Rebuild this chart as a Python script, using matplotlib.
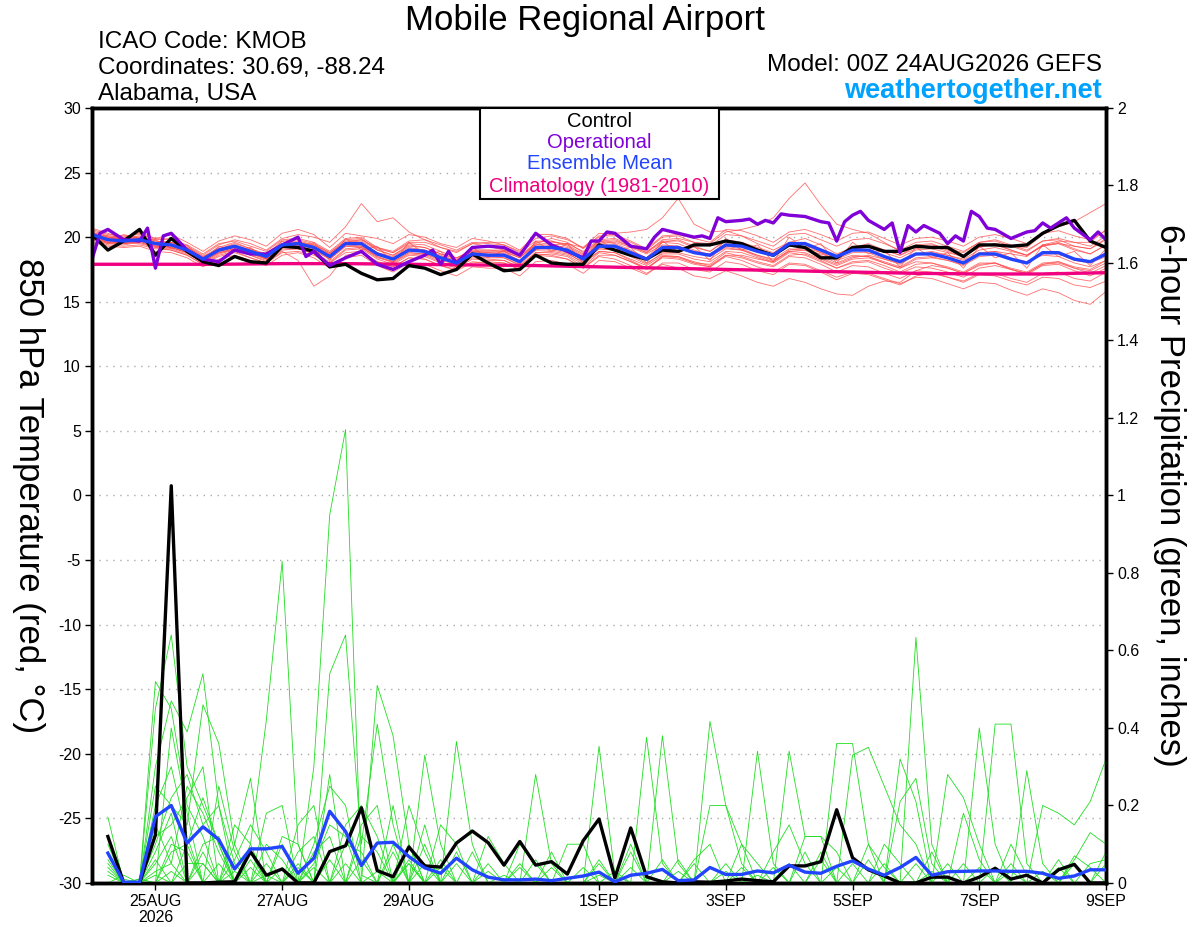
import numpy as np
import matplotlib
matplotlib.use("Agg")
import matplotlib.pyplot as plt
from matplotlib.patches import Rectangle

plt.rcParams['font.family'] = ['Liberation Sans', 'DejaVu Sans']
plt.rcParams['axes.unicode_minus'] = False

# --- data (hours after 00Z 24AUG2026) ---
temp_hours = [6 * j for j in range(65)]      # 850 hPa temperature, 00Z..384h
precip_hours = [6 * (i + 1) for i in range(64)]  # 6-hour precip, 06Z..384h

control_temp = [
    20.2, 19.0, 19.7, 20.6, 18.6, 19.9, 18.9, 18.1, 17.8, 18.5, 18.1, 18.0, 19.3,
    19.2, 18.9, 17.7, 17.9, 17.2, 16.7, 16.8, 17.8, 17.6, 17.1, 17.5, 18.7, 18.0,
    17.4, 17.5, 18.6, 18.0, 17.9, 17.9, 19.4, 19.0, 18.6, 18.3, 19.0, 18.9, 19.4,
    19.4, 19.7, 19.5, 19.0, 18.6, 19.4, 19.2, 18.4, 18.4, 19.2, 19.3, 18.9, 18.9,
    19.3, 19.2, 19.2, 18.5, 19.4, 19.4, 19.3, 19.4, 20.3, 20.9, 21.3, 19.7, 19.2,
]
mean_temp = [
    20.2, 19.8, 19.7, 19.8, 19.5, 19.4, 19.0, 18.3, 19.0, 19.3, 18.9, 18.5, 19.4,
    19.5, 19.2, 18.5, 19.5, 19.5, 18.7, 18.3, 19.0, 18.9, 18.4, 18.0, 18.7, 18.6,
    18.6, 18.1, 19.2, 19.2, 19.0, 18.3, 19.3, 19.3, 18.8, 18.3, 19.2, 19.2, 18.8,
    18.6, 19.4, 19.3, 18.9, 18.6, 19.5, 19.5, 19.0, 18.5, 19.0, 19.0, 18.5, 18.1,
    18.7, 18.7, 18.4, 18.0, 18.7, 18.7, 18.3, 18.0, 18.8, 18.8, 18.3, 18.1, 18.7,
]
op_hours = [0, 3, 6, 12, 18, 21, 24, 27, 30, 36, 42, 48, 54, 60, 66, 72, 78, 81, 84, 90,
            96, 102, 108, 114, 120, 126, 129, 132, 135, 138, 144, 150, 156, 162, 168,
            174, 180, 186, 189, 192, 195, 198, 204, 210, 213, 216, 222, 228, 231, 234,
            237, 240, 246, 249, 252, 255, 258, 261, 264, 270, 276, 279, 282, 285, 288,
            291, 294, 300, 303, 306, 309, 312, 315, 318, 321, 324, 327, 330, 333, 336,
            339, 342, 348, 354, 357, 360, 363, 366, 369, 372, 378, 381, 384]
op_temp = [18.3, 20.3, 20.6, 19.8, 19.7, 20.7, 17.6, 20.1, 20.3, 19.0, 18.3, 18.1, 19.0, 18.7, 18.7, 19.4, 20.0, 18.5, 18.9, 17.8,
           18.4, 18.9, 17.9, 17.5, 18.1, 18.6, 19.0, 17.9, 18.9, 18.0, 19.2, 19.3, 19.2, 18.6, 20.3,
           19.4, 18.9, 18.4, 19.7, 19.7, 20.4, 20.3, 19.3, 19.1, 20.0, 20.6, 20.3, 20.0, 20.1, 19.9,
           21.5, 21.2, 21.3, 21.4, 21.0, 21.3, 21.1, 21.8, 21.7, 21.6, 21.2, 21.1, 19.7, 21.2, 21.7,
           22.0, 21.3, 20.6, 21.1, 18.8, 20.9, 20.4, 20.9, 20.6, 20.3, 19.5, 20.1, 19.7, 22.0, 21.6,
           20.7, 20.6, 19.9, 20.4, 20.5, 21.1, 20.7, 21.1, 21.5, 20.7, 19.8, 20.4, 19.8]
clim_hours = [24 * d for d in range(17)]
clim_temp = [17.9, 17.9, 17.9, 17.95, 17.95, 17.9, 17.85, 17.8, 17.7, 17.6, 17.5, 17.4,
             17.3, 17.2, 17.15, 17.15, 17.25]

member_temp = [
    [20.5, 20.1, 20.0, 20.3, 19.8, 19.9, 19.3, 18.6, 19.4, 19.8, 19.5, 19.0, 19.9,
     20.2, 20.0, 19.6, 20.8, 22.6, 21.2, 21.5, 20.4, 19.8, 19.2, 18.9, 19.5, 19.3,
     19.0, 18.6, 19.5, 19.9, 19.6, 18.8, 19.7, 19.5, 19.0, 18.4, 19.6, 19.8, 19.3,
     18.9, 19.8, 19.6, 19.2, 18.8, 19.6, 19.9, 19.4, 18.7, 19.2, 19.5, 19.0, 18.6,
     19.1, 19.3, 18.9, 18.5, 19.2, 19.5, 19.0, 18.6, 19.3, 19.6, 19.1, 18.7, 19.4],
    [19.9, 19.5, 19.4, 19.6, 19.2, 19.0, 18.6, 17.9, 18.6, 18.9, 18.4, 18.0, 18.9,
     18.2, 16.2, 17.0, 18.6, 18.8, 18.1, 17.7, 18.4, 18.3, 17.8, 17.4, 18.0, 18.1,
     18.0, 17.5, 18.6, 18.7, 18.5, 17.7, 18.8, 18.6, 18.1, 17.5, 18.5, 18.4, 18.0,
     17.9, 18.8, 18.5, 18.1, 17.8, 18.6, 18.7, 18.2, 17.6, 18.1, 18.2, 17.8, 17.3,
     17.9, 18.0, 17.6, 17.2, 17.9, 18.0, 17.5, 17.2, 17.9, 18.1, 17.6, 17.2, 17.8],
    [20.4, 20.0, 19.9, 20.1, 19.7, 19.6, 19.2, 18.5, 19.2, 19.6, 19.1, 18.7, 19.7,
     19.8, 19.5, 18.8, 19.8, 19.9, 19.0, 18.6, 19.4, 19.2, 18.7, 18.3, 19.0, 19.0,
     18.9, 18.4, 19.6, 19.7, 19.4, 18.7, 19.7, 19.8, 19.3, 18.8, 19.8, 19.9, 19.6,
     19.5, 20.4, 20.6, 20.9, 21.5, 23.0, 24.2, 22.5, 21.0, 20.6, 20.3, 19.6, 18.9,
     19.4, 19.5, 19.0, 18.6, 19.3, 19.4, 19.0, 18.6, 19.4, 19.5, 19.0, 18.7, 19.4],
    [20.0, 19.7, 19.5, 19.6, 19.3, 19.2, 18.8, 18.1, 18.8, 19.1, 18.8, 18.3, 19.2,
     19.3, 19.0, 18.3, 19.3, 19.2, 18.5, 18.1, 18.8, 18.7, 18.2, 17.9, 18.5, 18.4,
     18.4, 17.9, 19.0, 19.4, 19.5, 19.2, 20.0, 20.3, 20.4, 20.6, 21.5, 23.0, 21.0,
     20.4, 20.5, 20.1, 19.5, 19.0, 19.6, 19.4, 18.8, 18.2, 18.6, 18.5, 18.0, 17.6,
     18.1, 18.0, 17.7, 17.3, 18.0, 18.0, 17.6, 17.3, 18.0, 18.1, 17.7, 17.5, 18.2],
    [20.3, 19.9, 19.8, 19.9, 19.6, 19.5, 19.1, 18.4, 19.1, 19.4, 19.0, 18.6, 19.5,
     19.6, 19.3, 18.6, 19.6, 19.6, 18.8, 18.4, 19.1, 19.0, 18.5, 18.1, 18.8, 18.7,
     18.7, 18.2, 19.3, 19.3, 19.1, 18.4, 19.4, 19.4, 18.9, 18.4, 19.3, 19.3, 18.9,
     18.7, 19.5, 19.4, 19.0, 18.7, 19.6, 19.6, 19.1, 18.6, 19.1, 19.2, 18.8, 18.4,
     19.0, 19.1, 18.8, 18.5, 19.3, 19.5, 19.3, 19.2, 20.2, 20.8, 21.2, 21.9, 22.6],
    [20.1, 19.6, 19.5, 19.7, 19.3, 19.3, 18.9, 18.2, 18.9, 19.2, 18.7, 18.3, 19.2,
     19.3, 19.0, 18.3, 19.3, 19.3, 18.5, 18.0, 18.7, 18.6, 18.1, 17.7, 18.4, 18.3,
     18.2, 17.7, 18.8, 18.8, 18.6, 17.9, 18.9, 18.8, 18.3, 17.8, 18.6, 18.5, 18.0,
     17.7, 18.5, 18.2, 17.7, 17.3, 18.0, 17.9, 17.4, 16.9, 17.3, 17.2, 16.8, 16.4,
     16.9, 16.8, 16.4, 16.0, 16.5, 16.4, 15.9, 15.5, 16.0, 15.7, 15.1, 14.8, 15.8],
    [20.0, 19.6, 19.6, 19.7, 19.4, 19.2, 18.8, 18.0, 18.7, 19.0, 18.6, 18.2, 19.1,
     19.1, 18.7, 18.0, 19.0, 19.1, 18.3, 17.9, 18.6, 18.5, 18.0, 17.6, 18.3, 18.2,
     18.2, 17.6, 18.7, 18.6, 18.3, 17.6, 18.5, 18.3, 17.8, 17.2, 17.9, 17.6, 17.0,
     16.8, 17.4, 17.0, 16.5, 16.2, 16.8, 16.5, 16.0, 15.6, 15.5, 16.2, 16.6, 16.5,
     17.4, 17.8, 17.6, 17.2, 17.8, 18.0, 17.5, 17.1, 17.8, 17.9, 17.4, 17.0, 17.6],
    [20.6, 20.2, 20.1, 20.2, 19.9, 19.8, 19.4, 18.7, 19.5, 19.7, 19.3, 18.9, 19.8,
     19.9, 19.6, 18.9, 19.9, 20.0, 19.2, 18.8, 19.6, 19.6, 19.2, 18.8, 19.5, 19.6,
     19.6, 19.0, 20.2, 20.2, 19.9, 19.1, 20.1, 20.1, 19.6, 19.0, 20.0, 20.1, 19.6,
     19.3, 20.2, 20.1, 19.7, 19.3, 20.2, 20.3, 19.8, 19.3, 19.8, 19.9, 19.5, 19.0,
     19.6, 19.7, 19.3, 18.9, 19.6, 19.7, 19.3, 18.9, 19.7, 19.8, 19.3, 19.1, 19.8],
    [19.8, 19.4, 19.3, 19.4, 19.1, 19.0, 18.6, 17.9, 18.5, 18.8, 18.4, 18.0, 18.8,
     18.9, 18.6, 18.0, 18.8, 18.9, 18.1, 17.7, 18.4, 18.3, 17.8, 17.5, 18.1, 18.0,
     18.0, 17.5, 18.6, 18.5, 18.3, 17.6, 18.6, 18.6, 18.1, 17.6, 18.5, 18.5, 18.1,
     17.8, 18.6, 18.4, 18.0, 17.7, 18.5, 18.4, 17.9, 17.3, 17.8, 17.7, 17.2, 16.8,
     17.4, 17.3, 16.9, 16.6, 17.2, 17.2, 16.8, 16.5, 17.2, 17.3, 16.8, 16.6, 17.3],
    [20.2, 19.9, 19.9, 20.0, 19.4, 19.3, 18.9, 18.4, 19.1, 19.5, 19.1, 18.6, 19.5,
     19.7, 19.4, 18.7, 19.7, 19.8, 19.1, 18.8, 19.5, 19.4, 18.9, 18.4, 18.9, 18.8,
     18.7, 18.1, 19.0, 19.0, 18.8, 18.0, 18.9, 18.8, 18.2, 17.6, 18.4, 18.3, 17.9,
     17.7, 18.6, 18.6, 18.3, 18.1, 19.0, 19.2, 18.8, 18.4, 19.1, 19.3, 19.0, 18.6,
     19.3, 19.4, 19.1, 18.8, 19.6, 19.8, 19.4, 19.0, 19.7, 19.9, 19.6, 19.3, 20.1],
    [19.9, 19.6, 19.6, 19.5, 19.2, 19.1, 18.7, 18.1, 18.8, 19.1, 18.8, 18.4, 19.3,
     19.4, 19.1, 18.4, 19.4, 19.3, 18.6, 18.3, 19.0, 18.9, 18.5, 18.2, 18.9, 18.9,
     18.9, 18.4, 19.4, 19.4, 19.2, 18.5, 19.5, 19.6, 19.2, 18.7, 19.4, 19.3, 18.8,
     18.5, 19.2, 19.0, 18.5, 18.1, 18.9, 18.8, 18.3, 17.8, 18.3, 18.4, 18.0, 17.6,
     18.3, 18.4, 18.2, 17.8, 18.5, 18.6, 18.3, 18.0, 18.7, 18.7, 18.2, 18.0, 18.5],
    [20.3, 20.0, 19.9, 19.9, 19.6, 19.6, 19.2, 18.5, 19.0, 19.3, 18.9, 18.5, 19.4,
     19.6, 19.4, 18.8, 19.6, 19.7, 19.0, 18.6, 19.3, 19.2, 18.7, 18.4, 19.0, 19.0,
     19.0, 18.5, 19.4, 19.6, 19.5, 18.9, 19.8, 19.9, 19.4, 18.9, 19.7, 19.7, 19.2,
     18.9, 19.7, 19.5, 19.1, 18.7, 19.3, 19.2, 18.6, 18.0, 18.5, 18.5, 18.1, 17.7,
     18.4, 18.5, 18.2, 17.9, 18.7, 18.9, 18.7, 18.5, 19.4, 19.7, 19.6, 19.6, 20.6],
    [20.7, 20.3, 19.9, 20.4, 19.9, 20.2, 19.6, 18.9, 19.7, 20.1, 19.8, 19.3, 20.3,
     20.6, 20.2, 19.2, 20.3, 20.1, 19.9, 19.5, 20.2, 20.0, 19.5, 19.2, 19.9, 19.7,
     19.4, 18.9, 19.9, 20.1, 19.8, 19.2, 20.3, 20.2, 19.7, 19.1, 20.1, 20.2, 19.9,
     19.6, 20.6, 20.5, 20.1, 19.6, 20.4, 20.6, 20.2, 19.7, 20.3, 20.4, 19.9, 19.4,
     19.9, 20.0, 19.7, 19.3, 20.0, 20.2, 19.9, 19.5, 20.3, 20.5, 20.1, 19.8, 20.5],
    [19.6, 19.3, 19.2, 19.3, 18.9, 18.8, 18.4, 17.7, 18.3, 18.6, 18.2, 17.8, 18.6,
     18.8, 18.4, 17.6, 18.4, 18.6, 17.8, 17.3, 18.0, 17.9, 17.4, 17.0, 17.7, 17.6,
     17.6, 17.0, 18.1, 18.2, 17.9, 17.2, 18.2, 18.1, 17.6, 17.1, 18.0, 18.0, 17.5,
     17.3, 18.1, 17.9, 17.4, 17.1, 17.9, 17.8, 17.3, 16.7, 17.2, 17.1, 16.7, 16.3,
     17.0, 17.2, 16.9, 16.5, 17.1, 17.0, 16.6, 16.3, 16.9, 16.8, 16.3, 16.1, 16.6],
    [20.4, 19.7, 20.2, 19.9, 19.8, 19.1, 19.4, 18.2, 19.3, 19.0, 19.2, 18.3, 19.7,
     19.1, 19.6, 18.2, 19.9, 19.0, 19.3, 18.0, 19.6, 18.7, 18.9, 17.7, 19.2, 18.4,
     19.0, 17.9, 19.7, 18.9, 19.5, 18.0, 19.8, 19.0, 19.2, 18.0, 19.7, 18.8, 19.3,
     18.2, 19.9, 19.0, 19.4, 18.1, 20.0, 19.1, 19.5, 18.0, 19.6, 18.7, 19.0, 17.7,
     19.2, 18.4, 18.8, 17.6, 19.3, 18.4, 18.8, 17.6, 19.4, 18.5, 18.9, 17.8, 19.1],
    [20.1, 20.0, 19.8, 19.8, 19.5, 19.4, 19.0, 18.4, 19.1, 19.3, 19.0, 18.6, 19.4,
     19.6, 19.3, 18.7, 19.5, 19.4, 18.8, 18.5, 19.2, 19.0, 18.6, 18.2, 18.8, 18.8,
     18.8, 18.2, 19.1, 19.1, 18.9, 18.2, 19.1, 19.0, 18.6, 18.0, 18.7, 18.7, 18.3,
     18.1, 18.9, 18.8, 18.4, 18.0, 18.8, 18.6, 18.1, 17.6, 18.0, 18.1, 17.6, 17.2,
     17.7, 17.6, 17.3, 16.9, 17.6, 17.8, 17.5, 17.2, 17.9, 18.0, 17.6, 17.4, 18.0],
    [20.3, 20.1, 20.0, 20.0, 19.7, 19.6, 19.1, 18.3, 18.9, 19.2, 18.8, 18.3, 19.2,
     19.4, 19.2, 18.6, 19.6, 19.8, 19.2, 18.9, 19.7, 19.8, 19.4, 19.0, 19.6, 19.5,
     19.4, 18.8, 19.7, 19.7, 19.3, 18.6, 19.6, 19.7, 19.3, 18.8, 19.6, 19.5, 19.0,
     18.6, 19.3, 19.1, 18.6, 18.2, 18.9, 19.0, 18.7, 18.3, 18.8, 18.8, 18.3, 17.9,
     18.6, 18.8, 18.6, 18.3, 19.0, 19.2, 18.9, 18.6, 19.3, 19.5, 19.3, 19.1, 19.9],
    [19.9, 19.5, 19.5, 19.7, 19.3, 19.2, 18.8, 18.2, 18.8, 19.0, 18.6, 18.1, 19.0,
     19.1, 18.8, 18.1, 19.1, 19.2, 18.4, 18.1, 18.8, 18.7, 18.3, 17.9, 18.6, 18.5,
     18.4, 17.8, 18.8, 18.9, 18.7, 18.1, 19.1, 19.0, 18.5, 17.9, 18.8, 18.8, 18.5,
     18.3, 19.1, 19.0, 18.6, 18.3, 19.1, 19.0, 18.4, 17.9, 18.4, 18.6, 18.3, 18.0,
     18.7, 18.9, 18.6, 18.2, 18.8, 18.9, 18.4, 18.1, 18.6, 18.5, 18.0, 17.7, 18.2],
]

control_precip = [
    0.12, 0, 0, 0.124, 1.025, 0, 0, 0.002, 0.003, 0.081,
    0.02, 0.036, 0, 0, 0.081, 0.096, 0.194, 0.032, 0.016, 0.093,
    0.044, 0.041, 0.103, 0.134, 0.104, 0.046, 0.107, 0.046, 0.055, 0.023,
    0.109, 0.165, 0.013, 0.142, 0.016, 0.003, 0, 0.003, 0.002, 0.005,
    0.01, 0.006, 0.003, 0.044, 0.044, 0.055, 0.189, 0.065, 0.034, 0.018,
    0, 0, 0.015, 0.015, 0, 0.015, 0.038, 0.01, 0.02, 0,
    0.034, 0.048, 0, 0,
]
mean_precip = [
    0.077, 0.002, 0.002, 0.171, 0.2, 0.103, 0.145, 0.112, 0.036, 0.088,
    0.088, 0.094, 0.025, 0.064, 0.185, 0.133, 0.045, 0.103, 0.105, 0.068,
    0.039, 0.025, 0.064, 0.034, 0.015, 0.008, 0.008, 0.01, 0.006, 0.012,
    0.018, 0.028, 0.003, 0.02, 0.025, 0.035, 0.006, 0.008, 0.04, 0.022,
    0.022, 0.031, 0.026, 0.046, 0.028, 0.025, 0.043, 0.057, 0.036, 0.02,
    0.04, 0.066, 0.02, 0.029, 0.03, 0.031, 0.031, 0.03, 0.03, 0.025,
    0.012, 0.018, 0.034, 0.034,
]
# ensemble member precip: {6-hour period index: inches}, other periods dry
member_precip = [
    {0: 0.17, 3: 0.52, 4: 0.45, 5: 0.2, 6: 0.12, 10: 0.05, 13: 0.3, 14: 0.95, 15: 1.17, 16: 0.02, 22: 0.05, 31: 0.05},
    {0: 0.1, 3: 0.45, 4: 0.64, 5: 0.3, 6: 0.2, 7: 0.1, 11: 0.1, 14: 0.54, 15: 0.64, 16: 0.1, 17: 0.41, 18: 0.15, 26: 0.05, 35: 0.38, 36: 0.05},
    {3: 0.3, 4: 0.47, 5: 0.39, 6: 0.54, 7: 0.2, 9: 0.1, 10: 0.42, 11: 0.83, 12: 0.1, 17: 0.51, 18: 0.38, 19: 0.1, 41: 0.34, 42: 0.05},
    {0: 0.05, 3: 0.25, 4: 0.2, 5: 0.15, 6: 0.46, 7: 0.36, 8: 0.1, 9: 0.27, 13: 0.1, 14: 0.25, 15: 0.2, 20: 0.33, 21: 0.1, 51: 0.634, 52: 0.1},
    {1: 0.02, 3: 0.2, 4: 0.3, 5: 0.12, 7: 0.25, 8: 0.08, 12: 0.15, 13: 0.2, 16: 0.15, 17: 0.2, 19: 0.1, 22: 0.365, 23: 0.1, 38: 0.417, 39: 0.2, 40: 0.1},
    {0: 0.08, 3: 0.12, 4: 0.15, 5: 0.22, 6: 0.3, 8: 0.1, 10: 0.18, 11: 0.2, 14: 0.28, 18: 0.2, 20: 0.1, 27: 0.28, 28: 0.05, 31: 0.353, 32: 0.02, 46: 0.36, 47: 0.36, 48: 0.1},
    {3: 0.08, 4: 0.18, 6: 0.1, 7: 0.12, 9: 0.06, 15: 0.1, 16: 0.08, 21: 0.15, 22: 0.1, 34: 0.376, 35: 0.05, 43: 0.34, 44: 0.12, 45: 0.12, 50: 0.32, 51: 0.21},
    {0: 0.04, 2: 0.01, 4: 0.1, 5: 0.08, 8: 0.15, 9: 0.1, 12: 0.05, 16: 0.12, 17: 0.08, 24: 0.12, 25: 0.05, 55: 0.40, 56: 0.1},
    {3: 0.05, 4: 0.12, 6: 0.08, 10: 0.1, 11: 0.06, 19: 0.2, 20: 0.08, 47: 0.33, 48: 0.35, 49: 0.25, 50: 0.15, 51: 0.1, 56: 0.41, 57: 0.41, 58: 0.05},
    {4: 0.08, 5: 0.1, 7: 0.05, 13: 0.08, 14: 0.12, 23: 0.08, 29: 0.1, 30: 0.1, 38: 0.2, 39: 0.2, 40: 0.05, 53: 0.28, 54: 0.22, 55: 0.1, 58: 0.29, 59: 0.05},
    {0: 0.02, 3: 0.03, 4: 0.05, 9: 0.04, 18: 0.1, 26: 0.1, 27: 0.05, 33: 0.1, 40: 0.1, 41: 0.05, 44: 0.12, 45: 0.12, 46: 0.08, 59: 0.2, 60: 0.18, 61: 0.15, 62: 0.21, 63: 0.32},
    {5: 0.05, 6: 0.05, 12: 0.04, 20: 0.05, 28: 0.08, 36: 0.06, 42: 0.08, 43: 0.15, 44: 0.05, 50: 0.21, 51: 0.27, 52: 0.05, 61: 0.06, 62: 0.13, 63: 0.1},
    {3: 0.02, 8: 0.03, 15: 0.05, 24: 0.03, 31: 0.02, 37: 0.05, 45: 0.06, 49: 0.05, 54: 0.18, 55: 0.06, 57: 0.1, 58: 0.02, 62: 0.05, 63: 0.06},
    {2: 0.01, 10: 0.02, 17: 0.03, 25: 0.02, 33: 0.04, 39: 0.03, 46: 0.04, 52: 0.03, 59: 0.03, 61: 0.07, 62: 0.04},
    {4: 0.03, 11: 0.04, 19: 0.05, 30: 0.04, 35: 0.06, 41: 0.02, 48: 0.06, 53: 0.05, 57: 0.03, 60: 0.04, 63: 0.05},
    {0: 0.06, 6: 0.05, 13: 0.04, 21: 0.04, 27: 0.06, 32: 0.03, 40: 0.04, 47: 0.05, 51: 0.05, 56: 0.04},
    {0: 0.03, 3: 0.1, 4: 0.22, 5: 0.28, 6: 0.15, 7: 0.2, 8: 0.05, 12: 0.08, 13: 0.12, 16: 0.06, 19: 0.05, 28: 0.04, 36: 0.03, 43: 0.05, 49: 0.1, 50: 0.05},
    {3: 0.15, 4: 0.05, 5: 0.25, 6: 0.18, 7: 0.08, 11: 0.12, 12: 0.1, 14: 0.06, 18: 0.08, 21: 0.06, 24: 0.05, 37: 0.06, 38: 0.1, 45: 0.08, 54: 0.05, 60: 0.06},
    {0: 0.12, 1: 0.01, 4: 0.4, 5: 0.18, 8: 0.06, 9: 0.15, 10: 0.08, 15: 0.15, 16: 0.2, 17: 0.12, 20: 0.15, 22: 0.08, 33: 0.08, 42: 0.04, 48: 0.1, 49: 0.04, 57: 0.05},
    {3: 0.06, 5: 0.1, 6: 0.22, 7: 0.1, 9: 0.08, 13: 0.05, 14: 0.15, 15: 0.12, 19: 0.06, 26: 0.04, 31: 0.06, 39: 0.05, 44: 0.08, 52: 0.08, 55: 0.04, 61: 0.05, 63: 0.08},
]

tick_hours = [24, 72, 120, 192, 240, 288, 336, 384]
tick_labels = ['25AUG\n2026', '27AUG', '29AUG', '1SEP', '3SEP', '5SEP', '7SEP', '9SEP']

RED = '#ff4a4a'
GREEN = '#22dd22'
PURPLE = '#8000d8'
BLUE = '#2244ff'
PINK = '#f00080'

fig = plt.figure(figsize=(12, 9.27), dpi=100)
ax = fig.add_axes([0.0767, 0.0475, 0.845, 0.836])
ax2 = ax.twinx()

# temperature ensemble members
for m in member_temp:
    ax.plot(temp_hours, m, color=RED, lw=0.6, alpha=0.8, zorder=2)

# precipitation ensemble members
for d in member_precip:
    vals = [d.get(i, 0.0) for i in range(len(precip_hours))]
    ax2.plot(precip_hours, vals, color=GREEN, lw=0.6, zorder=2)

ax2.plot(precip_hours, control_precip, color='black', lw=2.4, zorder=4)
ax2.plot(precip_hours, mean_precip, color=BLUE, lw=2.4, zorder=5)

ax.plot(clim_hours, clim_temp, color=PINK, lw=2.4, zorder=3)
ax.plot(temp_hours, control_temp, color='black', lw=2.4, zorder=4)
ax.plot(op_hours, op_temp, color=PURPLE, lw=2.4, zorder=5)
ax.plot(temp_hours, mean_temp, color=BLUE, lw=2.4, zorder=6)

# axes styling
ax.set_xlim(0, 384)
ax.set_ylim(-30, 30)
ax2.set_ylim(0, 2)
ax.set_yticks(range(-30, 31, 5))
ax.set_yticklabels([str(v) for v in range(-30, 31, 5)])
ax2.set_yticks([k * 0.2 for k in range(11)])
ax2.set_yticklabels(['0', '0.2', '0.4', '0.6', '0.8', '1', '1.2', '1.4', '1.6', '1.8', '2'])
ax.set_xticks(tick_hours)
ax.set_xticklabels(tick_labels, linespacing=1.05)
for a in (ax, ax2):
    a.tick_params(axis='both', labelsize=11.5, length=5, width=1, direction='out', pad=3)
    for s in a.spines.values():
        s.set_linewidth(2.5)
for g in range(-25, 30, 5):
    ax.axhline(g, color='#aaaaaa', lw=1, ls=(0, (1, 4)), zorder=1)

ax.set_ylabel('850 hPa Temperature (red, °C)', fontsize=25, rotation=-90,
              va='center', ha='center')
ax.yaxis.set_label_coords(-0.063, 0.5)
ax2.set_ylabel('6-hour Precipitation (green, inches)', fontsize=25, rotation=-90,
               va='center', ha='center')
ax2.yaxis.set_label_coords(1.063, 0.5)

# legend box
ax2.add_patch(Rectangle((0.3826, 0.883), 0.2357, 0.117, transform=ax2.transAxes,
                        facecolor='white', edgecolor='black', lw=1.5, zorder=10))
for txt, col, yy in [('Control', 'black', 0.982), ('Operational', PURPLE, 0.955),
                     ('Ensemble Mean', BLUE, 0.928), ('Climatology (1981-2010)', PINK, 0.899)]:
    ax2.text(0.5005, yy, txt, color=col, fontsize=14.5, ha='center', va='center',
             transform=ax2.transAxes, zorder=11)

# header texts
fig.text(0.4875, 0.978, 'Mobile Regional Airport', fontsize=25, ha='center', va='center')
fig.text(0.0817, 0.955, 'ICAO Code: KMOB', fontsize=17.5, ha='left', va='center')
fig.text(0.0817, 0.927, 'Coordinates: 30.69, -88.24', fontsize=17.5, ha='left', va='center')
fig.text(0.0817, 0.899, 'Alabama, USA', fontsize=17.5, ha='left', va='center')
fig.text(0.9185, 0.930, 'Model: 00Z 24AUG2026 GEFS', fontsize=17.5, ha='right', va='center')
fig.text(0.9185, 0.902, 'weathertogether.net', fontsize=19.5, ha='right', va='center',
         color='#00a2ff', fontweight='bold')

fig.savefig('out.png', dpi=100)
